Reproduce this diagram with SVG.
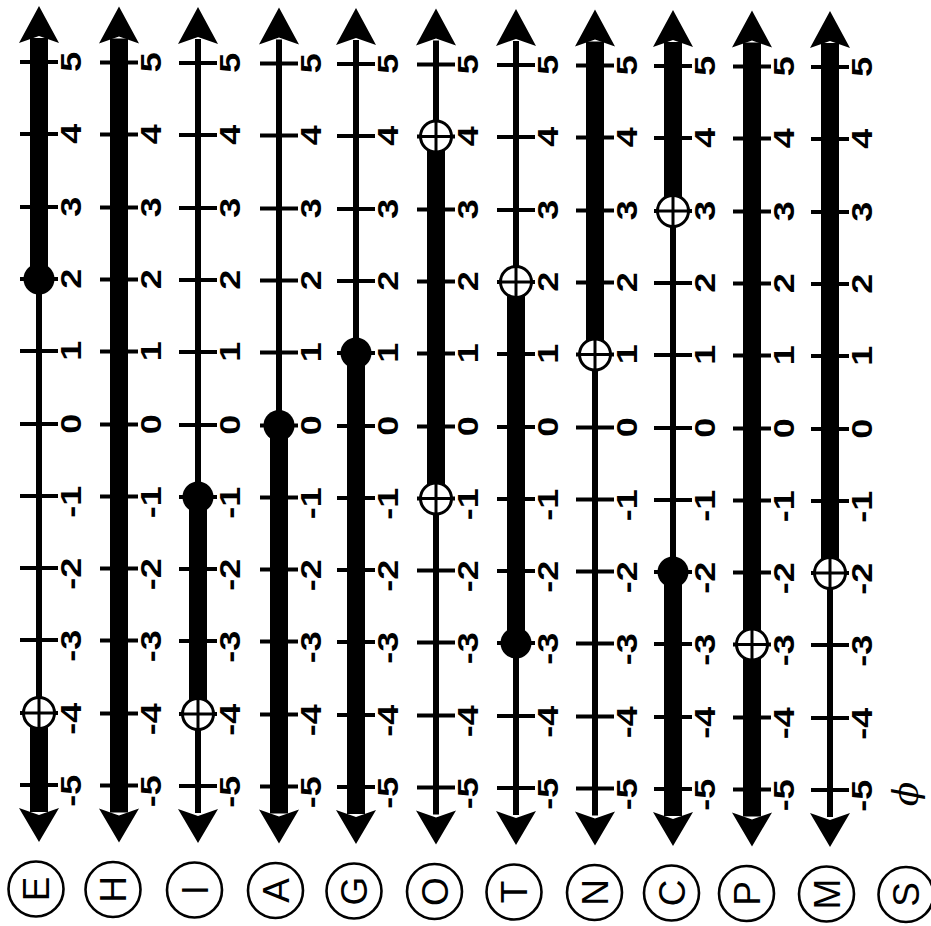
<svg xmlns="http://www.w3.org/2000/svg" xmlns:xlink="http://www.w3.org/1999/xlink" width="931" height="926" viewBox="0 0 931 926">
<style>
.thk{stroke:#000;stroke-width:18;fill:none}
.thn{stroke:#000;stroke-width:6;fill:none}
.tick{stroke:#000;stroke-width:4;fill:none}
.num text{font-family:"Liberation Sans",Arial,sans-serif;font-weight:bold;font-size:30px;text-anchor:end;fill:#000}
.let{font-family:"Liberation Sans",Arial,sans-serif;font-size:37px;text-anchor:middle;fill:#000}
.ring{fill:none;stroke:#000;stroke-width:2.6}
.dot{fill:#000}
</style>
<defs>
<path id="ua" d="M0,6 L20,43 L0,36 L-20,43 Z" fill="#000"/>
<path id="da" d="M0,842 L20,808 L0,815 L-20,808 Z" fill="#000"/>
<g id="oc"><circle r="15.5" fill="#fff" stroke="#000" stroke-width="3"/><path d="M-19,0H19M0,-15V15" stroke="#000" stroke-width="3"/></g>
<path id="ticks" d="M-19,62H19M-19,134H19M-19,207H19M-19,279H19M-19,351H19M-19,424H19M-19,496H19M-19,568H19M-19,640H19M-19,713H19M-19,785H19" class="tick"/>
</defs>
<rect width="931" height="926" fill="#fff"/>

<!-- E: x>=2 or x<-4 -->
<g id="E" transform="translate(39,0)">
<path class="thn" d="M0,38V812"/>
<path class="thk" d="M0,38V279M0,713V812"/>
<use xlink:href="#ticks"/>
<use xlink:href="#ua"/><use xlink:href="#da"/>
<circle class="dot" cx="0" cy="279" r="15.5"/>
<use xlink:href="#oc" x="0" y="713"/>
<g class="num">
<text transform="translate(42,62) rotate(-90) scale(1.2,1)" x="8.5">5</text>
<text transform="translate(42,134) rotate(-90) scale(1.2,1)" x="8.5">4</text>
<text transform="translate(42,207) rotate(-90) scale(1.2,1)" x="8.5">3</text>
<text transform="translate(42,279) rotate(-90) scale(1.2,1)" x="8.5">2</text>
<text transform="translate(42,351) rotate(-90) scale(1.2,1)" x="8.5">1</text>
<text transform="translate(42,424) rotate(-90) scale(1.2,1)" x="8.5">0</text>
<text transform="translate(42,496) rotate(-90) scale(1.2,1)" x="8.5">-1</text>
<text transform="translate(42,568) rotate(-90) scale(1.2,1)" x="8.5">-2</text>
<text transform="translate(42,640) rotate(-90) scale(1.2,1)" x="8.5">-3</text>
<text transform="translate(42,713) rotate(-90) scale(1.2,1)" x="8.5">-4</text>
<text transform="translate(42,785) rotate(-90) scale(1.2,1)" x="8.5">-5</text>
</g>
<circle class="ring" cx="-3" cy="889" r="27.5"/>
<text class="let" transform="translate(-3,889) rotate(-90)" y="13">E</text>
</g>

<!-- H: all reals -->
<g id="H" transform="translate(119,0.5)">
<path class="thk" d="M0,38V812"/>
<use xlink:href="#ticks"/>
<use xlink:href="#ua"/><use xlink:href="#da"/>
<g class="num">
<text transform="translate(42,62) rotate(-90) scale(1.2,1)" x="8.5">5</text>
<text transform="translate(42,134) rotate(-90) scale(1.2,1)" x="8.5">4</text>
<text transform="translate(42,207) rotate(-90) scale(1.2,1)" x="8.5">3</text>
<text transform="translate(42,279) rotate(-90) scale(1.2,1)" x="8.5">2</text>
<text transform="translate(42,351) rotate(-90) scale(1.2,1)" x="8.5">1</text>
<text transform="translate(42,424) rotate(-90) scale(1.2,1)" x="8.5">0</text>
<text transform="translate(42,496) rotate(-90) scale(1.2,1)" x="8.5">-1</text>
<text transform="translate(42,568) rotate(-90) scale(1.2,1)" x="8.5">-2</text>
<text transform="translate(42,640) rotate(-90) scale(1.2,1)" x="8.5">-3</text>
<text transform="translate(42,713) rotate(-90) scale(1.2,1)" x="8.5">-4</text>
<text transform="translate(42,785) rotate(-90) scale(1.2,1)" x="8.5">-5</text>
</g>
<circle class="ring" cx="-6" cy="889" r="27.5"/>
<text class="let" transform="translate(-6,889) rotate(-90)" y="13">H</text>
</g>

<!-- I: -4 < x <= -1 -->
<g id="I" transform="translate(198,1)">
<path class="thn" d="M0,38V812"/>
<path class="thk" d="M0,496V713"/>
<use xlink:href="#ticks"/>
<use xlink:href="#ua"/><use xlink:href="#da"/>
<circle class="dot" cx="0" cy="496" r="15.5"/>
<use xlink:href="#oc" x="0" y="713"/>
<g class="num">
<text transform="translate(42,62) rotate(-90) scale(1.2,1)" x="8.5">5</text>
<text transform="translate(42,134) rotate(-90) scale(1.2,1)" x="8.5">4</text>
<text transform="translate(42,207) rotate(-90) scale(1.2,1)" x="8.5">3</text>
<text transform="translate(42,279) rotate(-90) scale(1.2,1)" x="8.5">2</text>
<text transform="translate(42,351) rotate(-90) scale(1.2,1)" x="8.5">1</text>
<text transform="translate(42,424) rotate(-90) scale(1.2,1)" x="8.5">0</text>
<text transform="translate(42,496) rotate(-90) scale(1.2,1)" x="8.5">-1</text>
<text transform="translate(42,568) rotate(-90) scale(1.2,1)" x="8.5">-2</text>
<text transform="translate(42,640) rotate(-90) scale(1.2,1)" x="8.5">-3</text>
<text transform="translate(42,713) rotate(-90) scale(1.2,1)" x="8.5">-4</text>
<text transform="translate(42,785) rotate(-90) scale(1.2,1)" x="8.5">-5</text>
</g>
<circle class="ring" cx="-3.5" cy="889" r="27.5"/>
<text class="let" transform="translate(-3.5,889) rotate(-90)" y="13">I</text>
</g>

<!-- A: x <= 0 -->
<g id="A" transform="translate(279,1.5)">
<path class="thn" d="M0,38V424"/>
<path class="thk" d="M0,424V812"/>
<use xlink:href="#ticks"/>
<use xlink:href="#ua"/><use xlink:href="#da"/>
<circle class="dot" cx="0" cy="424" r="15.5"/>
<g class="num">
<text transform="translate(42,62) rotate(-90) scale(1.2,1)" x="8.5">5</text>
<text transform="translate(42,134) rotate(-90) scale(1.2,1)" x="8.5">4</text>
<text transform="translate(42,207) rotate(-90) scale(1.2,1)" x="8.5">3</text>
<text transform="translate(42,279) rotate(-90) scale(1.2,1)" x="8.5">2</text>
<text transform="translate(42,351) rotate(-90) scale(1.2,1)" x="8.5">1</text>
<text transform="translate(42,424) rotate(-90) scale(1.2,1)" x="8.5">0</text>
<text transform="translate(42,496) rotate(-90) scale(1.2,1)" x="8.5">-1</text>
<text transform="translate(42,568) rotate(-90) scale(1.2,1)" x="8.5">-2</text>
<text transform="translate(42,640) rotate(-90) scale(1.2,1)" x="8.5">-3</text>
<text transform="translate(42,713) rotate(-90) scale(1.2,1)" x="8.5">-4</text>
<text transform="translate(42,785) rotate(-90) scale(1.2,1)" x="8.5">-5</text>
</g>
<circle class="ring" cx="-3.5" cy="889" r="27.5"/>
<text class="let" transform="translate(-3.5,889) rotate(-90)" y="13">A</text>
</g>

<!-- G: x <= 1 -->
<g id="G" transform="translate(356,2)">
<path class="thn" d="M0,38V351"/>
<path class="thk" d="M0,351V812"/>
<use xlink:href="#ticks"/>
<use xlink:href="#ua"/><use xlink:href="#da"/>
<circle class="dot" cx="0" cy="351" r="15.5"/>
<g class="num">
<text transform="translate(42,62) rotate(-90) scale(1.2,1)" x="8.5">5</text>
<text transform="translate(42,134) rotate(-90) scale(1.2,1)" x="8.5">4</text>
<text transform="translate(42,207) rotate(-90) scale(1.2,1)" x="8.5">3</text>
<text transform="translate(42,279) rotate(-90) scale(1.2,1)" x="8.5">2</text>
<text transform="translate(42,351) rotate(-90) scale(1.2,1)" x="8.5">1</text>
<text transform="translate(42,424) rotate(-90) scale(1.2,1)" x="8.5">0</text>
<text transform="translate(42,496) rotate(-90) scale(1.2,1)" x="8.5">-1</text>
<text transform="translate(42,568) rotate(-90) scale(1.2,1)" x="8.5">-2</text>
<text transform="translate(42,640) rotate(-90) scale(1.2,1)" x="8.5">-3</text>
<text transform="translate(42,713) rotate(-90) scale(1.2,1)" x="8.5">-4</text>
<text transform="translate(42,785) rotate(-90) scale(1.2,1)" x="8.5">-5</text>
</g>
<circle class="ring" cx="-2" cy="889" r="27.5"/>
<text class="let" transform="translate(-2,889) rotate(-90)" y="13">G</text>
</g>

<!-- O: -1 < x < 4 -->
<g id="O" transform="translate(436,2.5)">
<path class="thn" d="M0,38V812"/>
<path class="thk" d="M0,134V496"/>
<use xlink:href="#ticks"/>
<use xlink:href="#ua"/><use xlink:href="#da"/>
<use xlink:href="#oc" x="0" y="134"/>
<use xlink:href="#oc" x="0" y="496"/>
<g class="num">
<text transform="translate(42,62) rotate(-90) scale(1.2,1)" x="8.5">5</text>
<text transform="translate(42,134) rotate(-90) scale(1.2,1)" x="8.5">4</text>
<text transform="translate(42,207) rotate(-90) scale(1.2,1)" x="8.5">3</text>
<text transform="translate(42,279) rotate(-90) scale(1.2,1)" x="8.5">2</text>
<text transform="translate(42,351) rotate(-90) scale(1.2,1)" x="8.5">1</text>
<text transform="translate(42,424) rotate(-90) scale(1.2,1)" x="8.5">0</text>
<text transform="translate(42,496) rotate(-90) scale(1.2,1)" x="8.5">-1</text>
<text transform="translate(42,568) rotate(-90) scale(1.2,1)" x="8.5">-2</text>
<text transform="translate(42,640) rotate(-90) scale(1.2,1)" x="8.5">-3</text>
<text transform="translate(42,713) rotate(-90) scale(1.2,1)" x="8.5">-4</text>
<text transform="translate(42,785) rotate(-90) scale(1.2,1)" x="8.5">-5</text>
</g>
<circle class="ring" cx="-1.5" cy="889" r="27.5"/>
<text class="let" transform="translate(-1.5,889) rotate(-90)" y="13">O</text>
</g>

<!-- T: -3 <= x < 2 -->
<g id="T" transform="translate(516,3)">
<path class="thn" d="M0,38V812"/>
<path class="thk" d="M0,279V640"/>
<use xlink:href="#ticks"/>
<use xlink:href="#ua"/><use xlink:href="#da"/>
<use xlink:href="#oc" x="0" y="279"/>
<circle class="dot" cx="0" cy="640" r="15.5"/>
<g class="num">
<text transform="translate(42,62) rotate(-90) scale(1.2,1)" x="8.5">5</text>
<text transform="translate(42,134) rotate(-90) scale(1.2,1)" x="8.5">4</text>
<text transform="translate(42,207) rotate(-90) scale(1.2,1)" x="8.5">3</text>
<text transform="translate(42,279) rotate(-90) scale(1.2,1)" x="8.5">2</text>
<text transform="translate(42,351) rotate(-90) scale(1.2,1)" x="8.5">1</text>
<text transform="translate(42,424) rotate(-90) scale(1.2,1)" x="8.5">0</text>
<text transform="translate(42,496) rotate(-90) scale(1.2,1)" x="8.5">-1</text>
<text transform="translate(42,568) rotate(-90) scale(1.2,1)" x="8.5">-2</text>
<text transform="translate(42,640) rotate(-90) scale(1.2,1)" x="8.5">-3</text>
<text transform="translate(42,713) rotate(-90) scale(1.2,1)" x="8.5">-4</text>
<text transform="translate(42,785) rotate(-90) scale(1.2,1)" x="8.5">-5</text>
</g>
<circle class="ring" cx="-2" cy="889" r="27.5"/>
<text class="let" transform="translate(-2,889) rotate(-90)" y="13">T</text>
</g>

<!-- N: x > 1 -->
<g id="N" transform="translate(595,3.5)">
<path class="thn" d="M0,351V812"/>
<path class="thk" d="M0,38V351"/>
<use xlink:href="#ticks"/>
<use xlink:href="#ua"/><use xlink:href="#da"/>
<use xlink:href="#oc" x="0" y="351"/>
<g class="num">
<text transform="translate(42,62) rotate(-90) scale(1.2,1)" x="8.5">5</text>
<text transform="translate(42,134) rotate(-90) scale(1.2,1)" x="8.5">4</text>
<text transform="translate(42,207) rotate(-90) scale(1.2,1)" x="8.5">3</text>
<text transform="translate(42,279) rotate(-90) scale(1.2,1)" x="8.5">2</text>
<text transform="translate(42,351) rotate(-90) scale(1.2,1)" x="8.5">1</text>
<text transform="translate(42,424) rotate(-90) scale(1.2,1)" x="8.5">0</text>
<text transform="translate(42,496) rotate(-90) scale(1.2,1)" x="8.5">-1</text>
<text transform="translate(42,568) rotate(-90) scale(1.2,1)" x="8.5">-2</text>
<text transform="translate(42,640) rotate(-90) scale(1.2,1)" x="8.5">-3</text>
<text transform="translate(42,713) rotate(-90) scale(1.2,1)" x="8.5">-4</text>
<text transform="translate(42,785) rotate(-90) scale(1.2,1)" x="8.5">-5</text>
</g>
<circle class="ring" cx="-0.5" cy="889" r="27.5"/>
<text class="let" transform="translate(-0.5,889) rotate(-90)" y="13">N</text>
</g>

<!-- C: x > 3 or x <= -2 -->
<g id="C" transform="translate(673,4)">
<path class="thn" d="M0,38V812"/>
<path class="thk" d="M0,38V207M0,568V812"/>
<use xlink:href="#ticks"/>
<use xlink:href="#ua"/><use xlink:href="#da"/>
<use xlink:href="#oc" x="0" y="207"/>
<circle class="dot" cx="0" cy="568" r="15.5"/>
<g class="num">
<text transform="translate(42,62) rotate(-90) scale(1.2,1)" x="8.5">5</text>
<text transform="translate(42,134) rotate(-90) scale(1.2,1)" x="8.5">4</text>
<text transform="translate(42,207) rotate(-90) scale(1.2,1)" x="8.5">3</text>
<text transform="translate(42,279) rotate(-90) scale(1.2,1)" x="8.5">2</text>
<text transform="translate(42,351) rotate(-90) scale(1.2,1)" x="8.5">1</text>
<text transform="translate(42,424) rotate(-90) scale(1.2,1)" x="8.5">0</text>
<text transform="translate(42,496) rotate(-90) scale(1.2,1)" x="8.5">-1</text>
<text transform="translate(42,568) rotate(-90) scale(1.2,1)" x="8.5">-2</text>
<text transform="translate(42,640) rotate(-90) scale(1.2,1)" x="8.5">-3</text>
<text transform="translate(42,713) rotate(-90) scale(1.2,1)" x="8.5">-4</text>
<text transform="translate(42,785) rotate(-90) scale(1.2,1)" x="8.5">-5</text>
</g>
<circle class="ring" cx="-1.5" cy="889" r="27.5"/>
<text class="let" transform="translate(-1.5,889) rotate(-90)" y="13">C</text>
</g>

<!-- P: x != -3 -->
<g id="P" transform="translate(752,4.5)">
<path class="thk" d="M0,38V812"/>
<use xlink:href="#ticks"/>
<use xlink:href="#ua"/><use xlink:href="#da"/>
<use xlink:href="#oc" x="0" y="640"/>
<g class="num">
<text transform="translate(42,62) rotate(-90) scale(1.2,1)" x="8.5">5</text>
<text transform="translate(42,134) rotate(-90) scale(1.2,1)" x="8.5">4</text>
<text transform="translate(42,207) rotate(-90) scale(1.2,1)" x="8.5">3</text>
<text transform="translate(42,279) rotate(-90) scale(1.2,1)" x="8.5">2</text>
<text transform="translate(42,351) rotate(-90) scale(1.2,1)" x="8.5">1</text>
<text transform="translate(42,424) rotate(-90) scale(1.2,1)" x="8.5">0</text>
<text transform="translate(42,496) rotate(-90) scale(1.2,1)" x="8.5">-1</text>
<text transform="translate(42,568) rotate(-90) scale(1.2,1)" x="8.5">-2</text>
<text transform="translate(42,640) rotate(-90) scale(1.2,1)" x="8.5">-3</text>
<text transform="translate(42,713) rotate(-90) scale(1.2,1)" x="8.5">-4</text>
<text transform="translate(42,785) rotate(-90) scale(1.2,1)" x="8.5">-5</text>
</g>
<circle class="ring" cx="-5.5" cy="889" r="27.5"/>
<text class="let" transform="translate(-5.5,889) rotate(-90)" y="13">P</text>
</g>

<!-- M: x > -2 -->
<g id="M" transform="translate(830,5)">
<path class="thn" d="M0,568V812"/>
<path class="thk" d="M0,38V568"/>
<use xlink:href="#ticks"/>
<use xlink:href="#ua"/><use xlink:href="#da"/>
<use xlink:href="#oc" x="0" y="568"/>
<g class="num">
<text transform="translate(42,62) rotate(-90) scale(1.2,1)" x="8.5">5</text>
<text transform="translate(42,134) rotate(-90) scale(1.2,1)" x="8.5">4</text>
<text transform="translate(42,207) rotate(-90) scale(1.2,1)" x="8.5">3</text>
<text transform="translate(42,279) rotate(-90) scale(1.2,1)" x="8.5">2</text>
<text transform="translate(42,351) rotate(-90) scale(1.2,1)" x="8.5">1</text>
<text transform="translate(42,424) rotate(-90) scale(1.2,1)" x="8.5">0</text>
<text transform="translate(42,496) rotate(-90) scale(1.2,1)" x="8.5">-1</text>
<text transform="translate(42,568) rotate(-90) scale(1.2,1)" x="8.5">-2</text>
<text transform="translate(42,640) rotate(-90) scale(1.2,1)" x="8.5">-3</text>
<text transform="translate(42,713) rotate(-90) scale(1.2,1)" x="8.5">-4</text>
<text transform="translate(42,785) rotate(-90) scale(1.2,1)" x="8.5">-5</text>
</g>
<circle class="ring" cx="-3.5" cy="889" r="27.5"/>
<text class="let" transform="translate(-3.5,889) rotate(-90)" y="13">M</text>
</g>

<!-- S: empty set -->
<g id="S">
<text transform="translate(906,794) rotate(-90)" y="12" style="font-family:'DejaVu Serif','Liberation Serif',serif;font-style:italic;font-size:36px;text-anchor:middle">ϕ</text>
<circle class="ring" cx="906" cy="894.5" r="27.5"/>
<text class="let" transform="translate(906,894.5) rotate(-90)" y="13">S</text>
</g>
</svg>
